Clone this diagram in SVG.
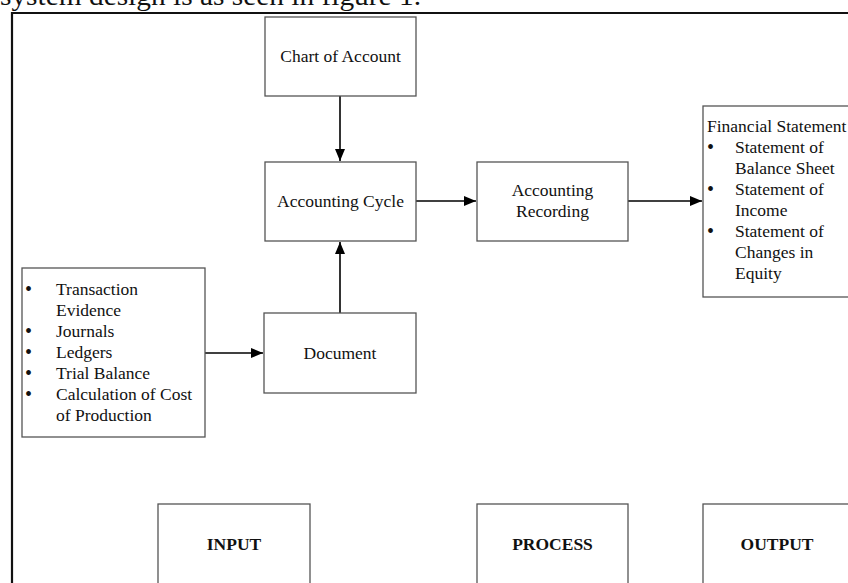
<svg xmlns="http://www.w3.org/2000/svg" width="848" height="583" viewBox="0 0 848 583">
<style>
text{font-family:"Liberation Serif","Times New Roman",serif;font-size:17.5px;fill:#111}
.c{text-anchor:middle}
.b{font-weight:bold}
.bul{font-size:20px}
.box{fill:#fff;stroke:#555;stroke-width:1.3}
.ln{stroke:#000;stroke-width:1.6;fill:none}
</style>
<defs>
<marker id="ah" markerWidth="12" markerHeight="10" refX="12" refY="5" orient="auto" markerUnits="userSpaceOnUse">
<path d="M0,0 L12,5 L0,10 Z" fill="#000"/>
</marker>
</defs>
<rect width="848" height="583" fill="#fff"/>
<text x="0" y="5" style="font-size:28px" textLength="421" lengthAdjust="spacingAndGlyphs">system design is as seen in figure 1.</text>
<path d="M12,583 V13 H848" fill="none" stroke="#111" stroke-width="2.2"/>

<g id="connectors">
<line class="ln" x1="340" y1="96" x2="340" y2="161" marker-end="url(#ah)"/>
<line class="ln" x1="340" y1="313" x2="340" y2="242" marker-end="url(#ah)"/>
<line class="ln" x1="416" y1="201" x2="476" y2="201" marker-end="url(#ah)"/>
<line class="ln" x1="628" y1="201" x2="702" y2="201" marker-end="url(#ah)"/>
<line class="ln" x1="205" y1="353" x2="263" y2="353" marker-end="url(#ah)"/>
</g>

<g id="chart">
<rect class="box" x="265" y="17" width="151" height="79"/>
<text class="c" x="340.5" y="62">Chart of Account</text>
</g>
<g id="cycle">
<rect class="box" x="265" y="162" width="151" height="79"/>
<text class="c" x="340.5" y="207">Accounting Cycle</text>
</g>
<g id="recording">
<rect class="box" x="477" y="162" width="151" height="79"/>
<text class="c" x="552.5" y="196">Accounting</text>
<text class="c" x="552.5" y="217">Recording</text>
</g>
<g id="document">
<rect class="box" x="264" y="313" width="152" height="80"/>
<text class="c" x="340" y="359">Document</text>
</g>
<g id="inputs">
<rect class="box" x="22" y="268" width="183" height="169"/>
<text class="bul" x="25" y="296">•</text><text x="56" y="295">Transaction</text>
<text x="56" y="316">Evidence</text>
<text class="bul" x="25" y="338">•</text><text x="56" y="337">Journals</text>
<text class="bul" x="25" y="359">•</text><text x="56" y="358">Ledgers</text>
<text class="bul" x="25" y="380">•</text><text x="56" y="379">Trial Balance</text>
<text class="bul" x="25" y="401">•</text><text x="56" y="400">Calculation of Cost</text>
<text x="56" y="421">of Production</text>
</g>
<g id="financial">
<rect class="box" x="703" y="106" width="160" height="191"/>
<text x="707" y="132">Financial Statement</text>
<text class="bul" x="707" y="154">•</text><text x="735" y="153">Statement of</text>
<text x="735" y="174">Balance Sheet</text>
<text class="bul" x="707" y="196">•</text><text x="735" y="195">Statement of</text>
<text x="735" y="216">Income</text>
<text class="bul" x="707" y="238">•</text><text x="735" y="237">Statement of</text>
<text x="735" y="258">Changes in</text>
<text x="735" y="279">Equity</text>
</g>
<g id="input">
<rect class="box" x="158" y="504" width="152" height="90"/>
<text class="c b" x="234" y="550">INPUT</text>
</g>
<g id="process">
<rect class="box" x="477" y="504" width="151" height="90"/>
<text class="c b" x="552.5" y="550">PROCESS</text>
</g>
<g id="output">
<rect class="box" x="703" y="504" width="160" height="90"/>
<text class="c b" x="777" y="550">OUTPUT</text>
</g>
</svg>
